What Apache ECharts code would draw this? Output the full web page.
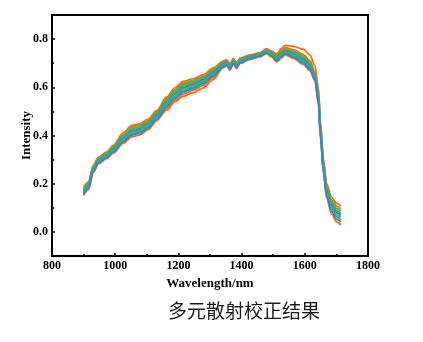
<!DOCTYPE html>
<html><head><meta charset="utf-8">
<script src="https://cdn.jsdelivr.net/npm/echarts@6/dist/echarts.min.js"></script>
<style>html,body{margin:0;padding:0;background:#fff}#c{width:423px;height:342px}</style>
</head><body><div id="c"></div>
<script>
const wavelength = [900,915,931,947,973,994,1026,1052,1078,1105,1131,1163,1189,1215,1247,1279,1310,1342,1353,1363,1374,1384,1395,1427,1458,1479,1495,1511,1527,1537,1564,1595,1616,1632,1643,1650,1659,1669,1685,1701,1714];
const specA = [.185,.206,.277,.310,.332,.359,.412,.442,.449,.469,.503,.560,.598,.624,.636,.652,.680,.709,.715,.697,.720,.702,.721,.734,.744,.760,.750,.738,.754,.765,.756,.737,.711,.663,.580,.440,.300,.200,.143,.118,.108];
const specI = [.151,.174,.247,.282,.304,.327,.368,.394,.403,.425,.461,.512,.546,.572,.588,.608,.640,.681,.689,.671,.696,.678,.699,.716,.726,.740,.726,.706,.722,.735,.720,.695,.669,.627,.530,.380,.240,.140,.073,.042,.028];
const specJ = [.162,.184,.256,.290,.312,.337,.382,.408,.415,.434,.465,.505,.540,.562,.578,.598,.632,.683,.694,.676,.702,.684,.706,.725,.738,.754,.748,.738,.762,.774,.770,.758,.735,.690,.600,.450,.295,.180,.110,.085,.075];
const specB = [.180,.201,.273,.306,.328,.354,.405,.435,.442,.462,.497,.553,.590,.616,.629,.645,.674,.705,.711,.693,.716,.698,.718,.731,.741,.757,.746,.733,.749,.761,.751,.731,.705,.658,.573,.431,.291,.191,.133,.107,.096];
const specC = [.176,.197,.269,.302,.324,.350,.400,.429,.436,.457,.492,.547,.584,.610,.623,.640,.669,.701,.708,.690,.713,.695,.715,.729,.739,.755,.743,.729,.745,.757,.746,.726,.700,.653,.566,.424,.284,.184,.124,.097,.086];
const specD = [.171,.193,.265,.299,.321,.346,.394,.423,.431,.451,.486,.541,.577,.603,.617,.634,.664,.698,.705,.687,.710,.692,.712,.727,.737,.752,.740,.725,.741,.753,.742,.720,.694,.649,.560,.416,.276,.176,.115,.088,.076];
const specE = [.168,.190,.262,.296,.318,.343,.390,.418,.426,.447,.482,.536,.572,.598,.612,.630,.660,.695,.702,.684,.708,.690,.710,.725,.735,.750,.738,.722,.738,.750,.738,.716,.690,.645,.555,.410,.270,.170,.108,.080,.068];
const specF = [.165,.187,.259,.293,.315,.340,.386,.413,.421,.443,.478,.531,.567,.593,.607,.626,.656,.692,.699,.681,.706,.688,.708,.723,.733,.748,.736,.719,.735,.747,.734,.712,.686,.641,.550,.404,.264,.164,.101,.072,.060];
const specG = [.160,.183,.255,.290,.312,.336,.380,.407,.416,.437,.473,.525,.560,.586,.601,.620,.651,.689,.696,.678,.703,.685,.705,.721,.731,.746,.733,.715,.731,.743,.730,.707,.681,.637,.544,.397,.257,.157,.092,.063,.050];
const specH = [.156,.179,.252,.286,.308,.332,.375,.401,.410,.432,.467,.519,.554,.580,.595,.615,.646,.685,.693,.675,.700,.682,.702,.719,.729,.743,.730,.711,.727,.740,.725,.701,.675,.632,.538,.389,.249,.149,.084,.053,.040];
const yLabelValues = [0, 0.2, 0.4, 0.6, 0.8];
const yMinorValues = [0.1, 0.3, 0.5, 0.7];

const ORANGE = '#ff6a13', OLIVE = '#8e9f2a', GREEN = '#5cad3a', TEAL = '#22adbd', BLUE = '#3b84cc';
const seriesDefs = [
  [specA, ORANGE],[specI, ORANGE],[specJ, ORANGE],
  [specB, OLIVE],[specC, GREEN],[specD, TEAL],[specE, BLUE],
  [specF, GREEN],[specG, TEAL],[specH, BLUE]
];
const serif = 'Liberation Serif, Times New Roman, serif';
const chart = echarts.init(document.getElementById('c'), null, {renderer:'canvas'});
chart.setOption({
  animation: false,
  grid: {left: 52, right: 55, top: 15, bottom: 86, show: true, borderColor: '#000', borderWidth: 2, backgroundColor: 'transparent'},
  xAxis: {
    type: 'value', min: 800, max: 1800, interval: 200,
    name: 'Wavelength/nm', nameLocation: 'middle', nameGap: 21, nameMoveOverlap: false,
    nameTextStyle: {fontFamily: serif, fontWeight: 'bold', fontSize: 13, color: '#000'},
    axisLine: {show: true, onZero: false, lineStyle: {color: '#000', width: 2}},
    axisTick: {show: true, inside: true, length: 3, lineStyle: {color: '#000', width: 1.5}},
    minorTick: {show: true, splitNumber: 2, length: 2, lineStyle: {color: '#000', width: 1.5}},
    splitLine: {show: false},
    axisLabel: {fontFamily: serif, fontWeight: 'bold', fontSize: 12, color: '#000', margin: 4,
      formatter: v => String(v)}
  },
  yAxis: [{
    type: 'value', min: -0.1, max: 0.9,
    name: 'Intensity', nameLocation: 'middle', nameGap: 19, nameMoveOverlap: false,
    nameTextStyle: {fontFamily: serif, fontWeight: 'bold', fontSize: 13, color: '#000'},
    axisLine: {show: true, onZero: false, lineStyle: {color: '#000', width: 2}},
    axisTick: {show: true, inside: true, length: 3, customValues: yLabelValues, lineStyle: {color: '#000', width: 1.5}},
    splitLine: {show: false},
    axisLabel: {customValues: yLabelValues, fontFamily: serif, fontWeight: 'bold', fontSize: 12, color: '#000', margin: 4,
      formatter: v => Number(v).toFixed(1)}
  },{
    type: 'value', min: -0.1, max: 0.9, position: 'left',
    axisLine: {show: false},
    axisTick: {show: true, inside: true, length: 2, customValues: yMinorValues, lineStyle: {color: '#000', width: 1.5}},
    axisLabel: {show: false}, splitLine: {show: false}
  }],
  series: seriesDefs.map(([arr, col]) => ({
    type: 'line', showSymbol: false, smooth: 0.3, smoothMonotone: 'x',
    lineStyle: {color: col, width: 1.8}, itemStyle: {color: col},
    data: wavelength.map((w, i) => [w, arr[i]])
  })),
  graphic: [{
    type: 'text', left: 168, top: 301,
    style: {text: '多元散射校正结果', fontFamily: 'Noto Sans CJK SC', fontSize: 19, fill: '#1a1a1a'}
  }]
});
</script></body></html>
